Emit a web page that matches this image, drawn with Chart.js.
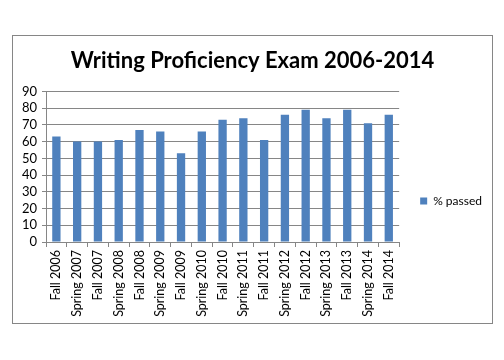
<!DOCTYPE html>
<html>
<head>
<meta charset="utf-8">
<script src="https://cdn.jsdelivr.net/npm/chart.js@4.4.0/dist/chart.umd.min.js"></script>
<style>
html,body{margin:0;padding:0;background:#fff;}
#wrap{position:relative;width:504px;height:360px;}
</style>
</head>
<body>
<div id="wrap"><canvas id="c" width="504" height="360"></canvas></div>
<script>
const categories = ["Fall 2006","Spring 2007","Fall 2007","Spring 2008","Fall 2008","Spring 2009","Fall 2009","Spring 2010","Fall 2010","Spring 2011","Fall 2011","Spring 2012","Fall 2012","Spring 2013","Fall 2013","Spring 2014","Fall 2014"];
const passed = [63,60,60,61,67,66,53,66,73,74,61,76,79,74,79,71,76];
const yTicks = [0,10,20,30,40,50,60,70,80,90];
const seriesName = "% passed";
const titleText = "Writing Proficiency Exam 2006-2014";

const frame = {
  id: 'frame',
  beforeDraw(chart) {
    const ctx = chart.ctx;
    ctx.save();
    ctx.fillStyle = '#fff';
    ctx.fillRect(0, 0, chart.width, chart.height);
    ctx.strokeStyle = '#868686';
    ctx.lineWidth = 1;
    ctx.strokeRect(12.5, 35.5, 480, 288);
    ctx.restore();
  }
};

new Chart(document.getElementById('c'), {
  type: 'bar',
  data: {
    labels: categories,
    datasets: [{
      label: seriesName,
      data: passed,
      backgroundColor: '#4F81BD',
      borderWidth: 0,
      categoryPercentage: 1,
      barPercentage: 0.4
    }]
  },
  options: {
    responsive: false,
    animation: false,
    devicePixelRatio: 1,
    layout: { padding: { left: 13, top: 36, right: 12, bottom: 36 } },
    plugins: {
      title: {
        display: true,
        text: titleText,
        color: '#000',
        font: { family: 'Lato', size: 22, weight: 'bold', lineHeight: 1.2 },
        padding: { top: 12, bottom: 17 }
      },
      legend: {
        position: 'right',
        title: {
          display: true,
          text: ' ',
          font: { family: 'Lato', size: 10, lineHeight: 1.2 },
          padding: 15
        },
        labels: {
          boxWidth: 7,
          boxHeight: 7,
          padding: 21,
          color: '#000',
          font: { family: 'Lato', size: 12 }
        }
      },
      tooltip: { enabled: false }
    },
    scales: {
      x: {
        offset: true,
        grid: {
          offset: true,
          drawOnChartArea: false,
          drawTicks: true,
          tickLength: 5,
          color: '#868686'
        },
        border: { color: '#868686' },
        ticks: {
          minRotation: 90,
          maxRotation: 90,
          autoSkip: false,
          color: '#000',
          padding: 3,
          font: { family: 'Lato', size: 12.5 }
        },
        afterFit(s) { s.height = 82; }
      },
      y: {
        min: 0,
        max: 90,
        afterBuildTicks(s) { s.ticks = yTicks.map(v => ({ value: v })); },
        grid: { color: '#868686', tickLength: 4 },
        border: { color: '#868686' },
        ticks: {
          autoSkip: false,
          color: '#000',
          padding: 5,
          font: { family: 'Lato', size: 13 }
        },
        afterFit(s) { s.width = 33; }
      }
    }
  },
  plugins: [frame]
});
</script>
</body>
</html>
